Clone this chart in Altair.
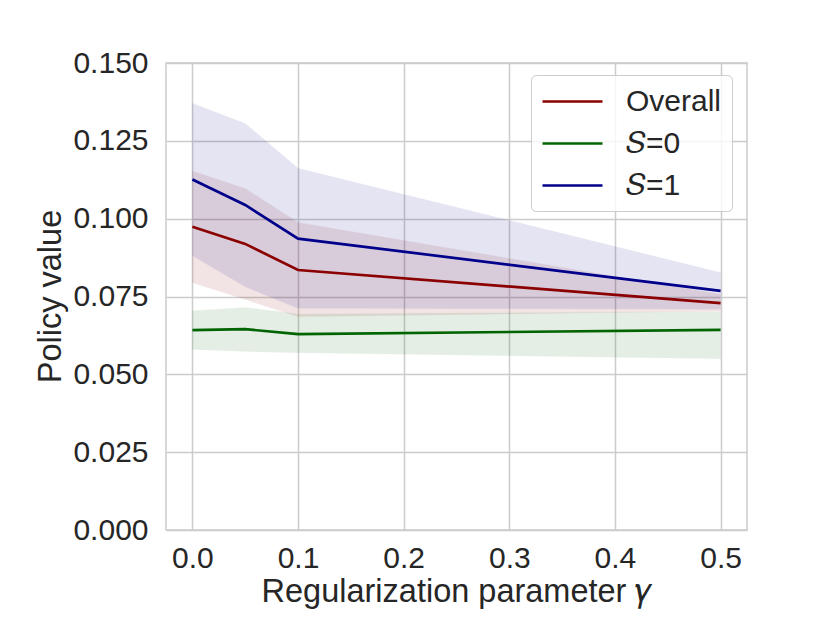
import altair as alt
import pandas as pd

gamma = [0.0, 0.05, 0.1, 0.5]

overall = [0.0974, 0.0919, 0.0835, 0.0729]
overall_lo = [0.0794, 0.0740, 0.0685, 0.0703]
overall_hi = [0.1153, 0.1097, 0.0988, 0.0757]

s0 = [0.0642, 0.0645, 0.0629, 0.0643]
s0_lo = [0.0580, 0.0573, 0.0569, 0.0550]
s0_hi = [0.0704, 0.0715, 0.0694, 0.0701]

s1 = [0.1126, 0.1044, 0.0936, 0.0768]
s1_lo = [0.0881, 0.0781, 0.0712, 0.0709]
s1_hi = [0.1371, 0.1306, 0.1162, 0.0827]

series_names = ["Overall", "𝑆=0", "𝑆=1"]
series_colors = ["#8b0000", "#006400", "#00008b"]

rows = []
for name, m, lo, hi in zip(series_names, [overall, s0, s1], [overall_lo, s0_lo, s1_lo], [overall_hi, s0_hi, s1_hi]):
    for g, a, b, c in zip(gamma, m, lo, hi):
        rows.append({"gamma": g, "value": a, "lo": b, "hi": c, "series": name})
df = pd.DataFrame(rows)

FONT = "Liberation Sans"
FS = 30
TFS = 32.5

xscale = alt.Scale(domain=[-0.025, 0.525], nice=False, zero=False)
yscale = alt.Scale(domain=[0, 0.15], nice=False)

xaxis = alt.Axis(
    values=[0.0, 0.1, 0.2, 0.3, 0.4, 0.5], format=".1f", title="Regularization parameter 𝛾",
    ticks=False, tickSize=0, domain=False, labelPadding=37, labelBaseline="alphabetic",
    titleBaseline="alphabetic", titleY=71, titleFontWeight="normal",
)
yaxis = alt.Axis(
    values=[0, 0.025, 0.05, 0.075, 0.1, 0.125, 0.15], format=".3f", title="Policy value",
    ticks=False, tickSize=0, domain=False, labelPadding=18,
    titleBaseline="alphabetic", titleX=-106, titleY=233, titleAngle=270, titleFontWeight="normal",
)

base = alt.Chart(df)

bands = base.mark_area(opacity=0.1, strokeOpacity=0.15, strokeWidth=1).encode(
    x=alt.X("gamma:Q", scale=xscale, axis=xaxis),
    y=alt.Y("lo:Q", scale=yscale, axis=yaxis),
    y2="hi:Q",
    color=alt.Color("series:N", scale=alt.Scale(domain=series_names, range=series_colors), legend=None),
    stroke=alt.Stroke("series:N", scale=alt.Scale(domain=series_names, range=series_colors), legend=None),
    detail="series:N",
)

lines = base.mark_line(strokeWidth=2.7).encode(
    x=alt.X("gamma:Q", scale=xscale, axis=xaxis),
    y=alt.Y("value:Q", scale=yscale, axis=yaxis),
    color=alt.Color(
        "series:N",
        scale=alt.Scale(domain=series_names, range=series_colors),
        legend=alt.Legend(
            title=None, orient="none", legendX=365, legendY=12,
            symbolType="M-2,0H2", symbolSize=900, symbolStrokeWidth=2.7,
            symbolFillColor="transparent", symbolOffset=15,
            labelFontSize=FS, labelFont=FONT, labelColor="#262626", labelOffset=37,
            rowPadding=10, padding=10, fillColor="rgba(255,255,255,0.8)",
            strokeColor="#cccccc", cornerRadius=5,
        ),
    ),
    order="gamma:Q",
)

chart = (
    alt.layer(bands, lines)
    .resolve_scale(color="independent", stroke="independent")
    .properties(
        width=581, height=467,
        autosize=alt.AutoSizeParams(type="none"),
        padding={"left": 158, "top": 55, "right": 70, "bottom": 90},
    )
    .configure_view(stroke="#cccccc", strokeWidth=1.5)
    .configure_axis(
        grid=True, gridColor="#cccccc", gridWidth=1.5,
        labelFont=FONT, titleFont=FONT, labelFontSize=FS, titleFontSize=TFS,
        labelColor="#262626", titleColor="#262626",
    )
)

chart.save("out.html", embed_options={"renderer": "svg", "actions": False})
